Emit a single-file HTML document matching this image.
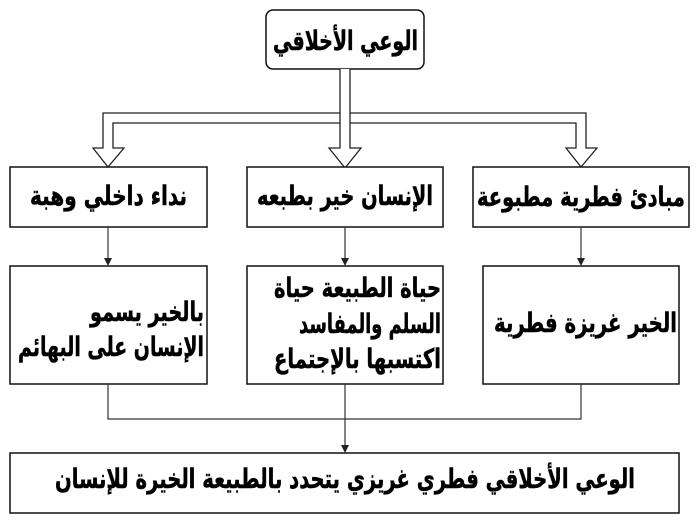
<!DOCTYPE html>
<html>
<head>
<meta charset="utf-8">
<style>
  html,body{margin:0;padding:0;background:#fff;}
  svg{display:block;}
  text{font-family:"DejaVu Sans","Liberation Sans",sans-serif;font-weight:bold;font-size:27px;fill:#000;stroke:#000;stroke-width:0.5px;}
</style>
</head>
<body>
<svg width="700" height="523" viewBox="0 0 700 523" xmlns="http://www.w3.org/2000/svg">
  <rect x="0" y="0" width="700" height="523" fill="#fff"/>

  <!-- top rounded box -->
  <rect x="266" y="10" width="158" height="59" rx="7" ry="7" fill="#fff" stroke="#111" stroke-width="1.5"/>
  <text x="345.5" y="50" text-anchor="middle" direction="rtl" textLength="145" lengthAdjust="spacingAndGlyphs">الوعي الأخلاقي</text>

  <!-- block arrows -->
  <g fill="#fff" stroke="#222" stroke-width="1.3" stroke-linejoin="miter">
    <path d="M340,113 L103,113 L103,148 L93,148 L108,167 L124,148 L113,148 L113,123 L340,123"/>
    <path d="M350,113 L586,113 L586,148 L597,148 L581,167 L566,148 L576,148 L576,123 L350,123"/>
    <path d="M340,69 L340,148 L329,148 L345,168 L361,148 L350,148 L350,69"/>
  </g>

  <!-- row 1 boxes -->
  <g fill="#fff" stroke="#111" stroke-width="1.5">
    <rect x="10" y="167" width="197" height="60"/>
    <rect x="247" y="167" width="196" height="60"/>
    <rect x="473" y="167" width="216" height="60"/>
  </g>
  <text x="108.5" y="205" text-anchor="middle" direction="rtl" textLength="157" lengthAdjust="spacingAndGlyphs">نداء داخلي وهبة</text>
  <text x="345" y="205" text-anchor="middle" direction="rtl" textLength="176" lengthAdjust="spacingAndGlyphs">الإنسان خير بطبعه</text>
  <text x="581" y="206" text-anchor="middle" direction="rtl" textLength="208" lengthAdjust="spacingAndGlyphs">مبادئ فطرية مطبوعة</text>

  <!-- thin arrows row1 -> row2 -->
  <g stroke="#333" stroke-width="1.2">
    <line x1="108" y1="227" x2="108" y2="260"/>
    <line x1="345" y1="227" x2="345" y2="260"/>
    <line x1="581" y1="227" x2="581" y2="260"/>
  </g>
  <g fill="#222">
    <polygon points="104,258 112,258 108,266"/>
    <polygon points="341,258 349,258 345,266"/>
    <polygon points="577,258 585,258 581,266"/>
  </g>

  <!-- row 2 boxes -->
  <g fill="#fff" stroke="#111" stroke-width="1.5">
    <rect x="10" y="266" width="197" height="118"/>
    <rect x="247" y="266" width="196" height="118"/>
    <rect x="483" y="266" width="196" height="118"/>
  </g>
  <text x="147" y="321" text-anchor="middle" direction="rtl" textLength="114" lengthAdjust="spacingAndGlyphs">بالخير يسمو</text>
  <text x="111" y="356" text-anchor="middle" direction="rtl" textLength="186" lengthAdjust="spacingAndGlyphs">الإنسان على البهائم</text>

  <text x="357.5" y="297" text-anchor="middle" direction="rtl" textLength="167" lengthAdjust="spacingAndGlyphs">حياة الطبيعة حياة</text>
  <text x="370" y="333" text-anchor="middle" direction="rtl" textLength="142" lengthAdjust="spacingAndGlyphs">السلم والمفاسد</text>
  <text x="357.5" y="368" text-anchor="middle" direction="rtl" textLength="167" lengthAdjust="spacingAndGlyphs">اكتسبها بالإجتماع</text>

  <text x="585.5" y="332" text-anchor="middle" direction="rtl" textLength="183" lengthAdjust="spacingAndGlyphs">الخير غريزة فطرية</text>

  <!-- bottom connectors -->
  <g fill="none" stroke="#333" stroke-width="1.2">
    <path d="M108,384 L108,419 L581,419 L581,384"/>
    <line x1="345" y1="384" x2="345" y2="446"/>
  </g>
  <polygon points="341,445 349,445 345,453" fill="#222"/>

  <!-- bottom box -->
  <rect x="10" y="453" width="669" height="60" fill="#fff" stroke="#111" stroke-width="1.5"/>
  <text x="345" y="488" text-anchor="middle" direction="rtl" textLength="580" lengthAdjust="spacingAndGlyphs">الوعي الأخلاقي فطري غريزي يتحدد بالطبيعة الخيرة للإنسان</text>
</svg>
</body>
</html>
